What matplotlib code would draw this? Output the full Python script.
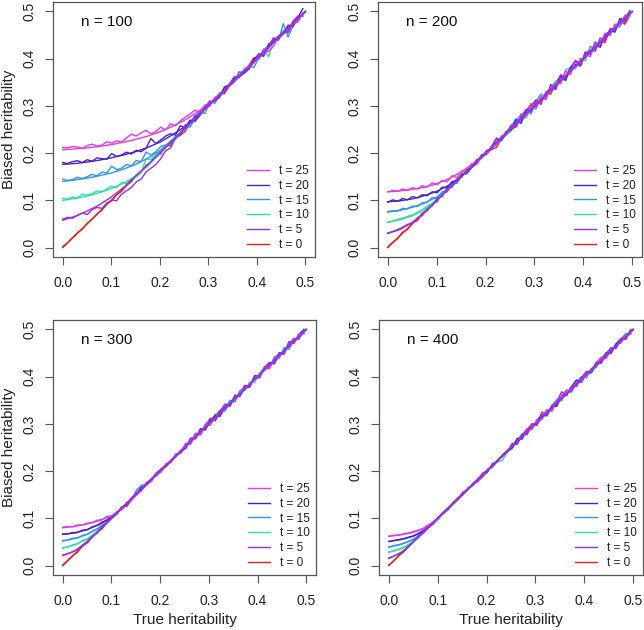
import numpy as np
import matplotlib
matplotlib.use("Agg")
import matplotlib.pyplot as plt
from matplotlib.lines import Line2D

plt.rcParams['font.family'] = ['Liberation Sans', 'DejaVu Sans']

# x grids (true heritability)
true_h_obs = np.linspace(0, 0.495, 50)
true_h_fit = np.linspace(0, 0.5, 21)

t_values = [25, 20, 15, 10, 5, 0]
sample_sizes = [100, 200, 300, 400]
x_ticks = [0.0, 0.1, 0.2, 0.3, 0.4, 0.5]
y_ticks = [0.0, 0.1, 0.2, 0.3, 0.4, 0.5]

# ---------------- n = 100 ----------------
n100_t25_obs = [.212,.211,.214,.213,.210,.216,.219,.215,.217,.224,
                .221,.226,.223,.232,.240,.236,.243,.248,.241,.246,
                .255,.249,.262,.258,.268,.276,.283,.291,.286,.302,
                .299,.318,.322,.331,.344,.352,.366,.372,.386,.392,
                .404,.418,.415,.426,.446,.452,.461,.473,.478,.497]
n100_t20_obs = [.180,.178,.182,.184,.180,.186,.183,.190,.188,.187,
                .199,.193,.196,.202,.198,.206,.203,.210,.231,.220,
                .228,.236,.241,.238,.258,.254,.270,.268,.280,.300,
                .306,.311,.318,.340,.344,.358,.362,.369,.378,.398,
                .410,.405,.431,.437,.448,.452,.471,.468,.488,.506]
n100_t15_obs = [.145,.142,.144,.149,.146,.150,.155,.152,.160,.158,
                .172,.165,.168,.176,.173,.184,.182,.202,.196,.203,
                .214,.217,.224,.235,.243,.258,.255,.274,.291,.294,
                .310,.305,.322,.339,.343,.351,.372,.370,.385,.381,
                .402,.420,.426,.444,.438,.474,.446,.470,.482,.494]
n100_t10_obs = [.104,.103,.107,.105,.113,.111,.114,.120,.118,.124,
                .130,.127,.138,.136,.145,.150,.158,.188,.186,.196,
                .205,.213,.226,.228,.243,.250,.268,.266,.282,.285,
                .306,.312,.328,.330,.348,.350,.360,.379,.383,.394,
                .399,.420,.404,.438,.446,.459,.463,.476,.480,.496]
n100_t5_obs = [.060,.064,.062,.068,.073,.070,.080,.085,.083,.094,
               .101,.099,.113,.120,.127,.139,.145,.160,.168,.176,
               .188,.205,.211,.232,.238,.260,.262,.280,.280,.296,
               .310,.310,.322,.328,.346,.362,.360,.374,.380,.392,
               .410,.408,.424,.444,.440,.455,.458,.480,.490,.493]
n100_t0_obs = [.002,.010,.021,.031,.039,.051,.060,.071,.079,.093,
               .099,.112,.119,.132,.139,.154,.159,.174,.180,.195,
               .198,.215,.216,.234,.238,.246,.264,.272,.288,.284,
               .306,.312,.328,.326,.342,.350,.372,.370,.386,.402,
               .398,.414,.421,.442,.440,.460,.455,.474,.490,.490]
n100_t25_fit = [.207,.209,.211,.214,.218,.223,.229,.236,.245,.256,.269,.285,.303,.325,.349,.374,.399,.424,.449,.474,.499]
n100_t20_fit = [.176,.178,.181,.185,.190,.196,.203,.212,.223,.238,.255,.277,.301,.325,.350,.375,.400,.425,.450,.475,.500]
n100_t15_fit = [.140,.143,.147,.152,.158,.166,.176,.189,.205,.227,.251,.276,.300,.325,.350,.375,.400,.425,.450,.475,.500]
n100_t10_fit = [.100,.104,.109,.116,.125,.136,.151,.172,.199,.225,.250,.275,.300,.325,.350,.375,.400,.425,.450,.475,.500]
n100_t5_fit = [.058,.066,.077,.090,.107,.127,.151,.175,.200,.225,.250,.275,.300,.325,.350,.375,.400,.425,.450,.475,.500]
n100_t0_fit = [.000,.025,.050,.075,.100,.125,.150,.175,.200,.225,.250,.275,.300,.325,.350,.375,.400,.425,.450,.475,.500]

# ---------------- n = 200 ----------------
n200_t25_obs = [.118,.121,.119,.124,.121,.127,.124,.131,.128,.137,
                .133,.142,.139,.152,.148,.163,.160,.178,.176,.194,
                .198,.214,.218,.236,.238,.260,.257,.283,.279,.305,
                .295,.319,.313,.341,.347,.347,.374,.366,.396,.390,
                .410,.404,.432,.430,.454,.449,.473,.473,.491,.491]
n200_t20_obs = [.096,.101,.098,.104,.101,.108,.105,.112,.110,.118,
                .116,.128,.126,.140,.140,.156,.158,.170,.178,.196,
                .198,.214,.230,.228,.244,.249,.271,.263,.289,.303,
                .297,.317,.315,.345,.337,.362,.354,.380,.388,.386,
                .414,.410,.432,.424,.450,.459,.457,.485,.481,.501]
n200_t15_obs = [.076,.078,.077,.083,.082,.088,.087,.095,.096,.106,
                .104,.118,.120,.134,.136,.154,.156,.170,.178,.190,
                .198,.210,.218,.228,.240,.257,.273,.267,.291,.283,
                .309,.325,.319,.339,.335,.364,.358,.378,.394,.384,
                .410,.410,.436,.428,.452,.451,.471,.467,.491,.497]
n200_t10_obs = [.054,.056,.060,.062,.066,.069,.074,.080,.088,.094,
                .104,.114,.124,.130,.142,.150,.164,.170,.186,.190,
                .200,.214,.220,.230,.238,.247,.269,.283,.275,.297,
                .293,.321,.319,.339,.353,.348,.376,.382,.378,.398,
                .396,.424,.418,.442,.440,.461,.455,.483,.487,.489]
n200_t5_obs = [.031,.034,.038,.043,.049,.052,.062,.068,.082,.088,
               .104,.108,.124,.128,.144,.150,.164,.170,.186,.190,
               .206,.208,.232,.226,.244,.258,.255,.277,.293,.287,
               .311,.303,.329,.337,.335,.366,.360,.382,.396,.384,
               .410,.418,.416,.444,.438,.463,.461,.481,.477,.501]
n200_t0_obs = [.001,.011,.019,.033,.038,.053,.057,.073,.078,.093,
               .097,.114,.118,.134,.139,.150,.166,.170,.180,.196,
               .198,.208,.212,.230,.246,.249,.257,.277,.275,.299,
               .313,.307,.327,.325,.349,.364,.354,.382,.380,.400,
               .396,.426,.418,.438,.434,.463,.463,.481,.473,.491]
n200_t25_fit = [.118,.120,.123,.128,.135,.146,.160,.178,.200,.225,.250,.275,.300,.325,.350,.375,.400,.425,.450,.475,.500]
n200_t20_fit = [.097,.099,.103,.110,.119,.132,.151,.175,.200,.225,.250,.275,.300,.325,.350,.375,.400,.425,.450,.475,.500]
n200_t15_fit = [.075,.079,.085,.094,.107,.127,.150,.175,.200,.225,.250,.275,.300,.325,.350,.375,.400,.425,.450,.475,.500]
n200_t10_fit = [.053,.059,.067,.080,.100,.125,.150,.175,.200,.225,.250,.275,.300,.325,.350,.375,.400,.425,.450,.475,.500]
n200_t5_fit = [.030,.038,.053,.075,.100,.125,.150,.175,.200,.225,.250,.275,.300,.325,.350,.375,.400,.425,.450,.475,.500]
n200_t0_fit = [.000,.025,.050,.075,.100,.125,.150,.175,.200,.225,.250,.275,.300,.325,.350,.375,.400,.425,.450,.475,.500]

# ---------------- n = 300 ----------------
n300_t25_obs = [.081,.083,.082,.086,.086,.090,.091,.096,.097,.104,
                .105,.114,.118,.132,.138,.156,.158,.176,.178,.196,
                .198,.216,.218,.236,.238,.259,.259,.280,.277,.297,
                .311,.308,.326,.340,.337,.359,.360,.382,.378,.399,
                .401,.420,.417,.438,.450,.450,.472,.471,.490,.492]
n300_t20_obs = [.067,.067,.070,.070,.075,.076,.082,.085,.092,.096,
                .104,.112,.122,.130,.142,.154,.166,.170,.182,.196,
                .204,.210,.222,.232,.244,.248,.269,.270,.290,.287,
                .307,.318,.316,.339,.339,.361,.359,.377,.378,.402,
                .400,.419,.430,.427,.448,.450,.474,.472,.490,.499]
n300_t15_obs = [.053,.054,.058,.058,.064,.066,.073,.077,.086,.092,
                .102,.110,.122,.132,.140,.160,.170,.172,.184,.192,
                .202,.214,.220,.230,.242,.257,.257,.280,.279,.298,
                .312,.306,.327,.328,.350,.348,.368,.380,.379,.401,
                .400,.419,.418,.442,.440,.461,.458,.479,.482,.500]
n300_t10_obs = [.038,.039,.044,.046,.053,.056,.064,.070,.083,.090,
                .102,.112,.120,.130,.142,.150,.164,.170,.184,.190,
                .198,.214,.222,.232,.238,.258,.258,.277,.276,.299,
                .299,.321,.318,.336,.349,.349,.371,.370,.389,.387,
                .408,.420,.419,.437,.438,.461,.464,.479,.479,.501]
n300_t5_obs = [.022,.025,.029,.034,.042,.048,.061,.069,.083,.090,
               .102,.109,.124,.128,.144,.152,.160,.175,.183,.190,
               .205,.213,.220,.235,.240,.249,.270,.268,.288,.290,
               .311,.307,.327,.342,.338,.358,.358,.381,.380,.399,
               .397,.420,.428,.428,.451,.450,.470,.481,.480,.498]
n300_t0_obs = [.001,.011,.021,.028,.043,.049,.060,.070,.078,.091,
               .101,.109,.125,.125,.140,.155,.161,.171,.179,.193,
               .203,.210,.223,.232,.241,.257,.259,.279,.278,.300,
               .297,.317,.329,.328,.347,.347,.369,.378,.378,.401,
               .400,.419,.417,.440,.447,.448,.473,.470,.489,.491]
n300_t25_fit = [.080,.083,.088,.095,.105,.123,.148,.175,.200,.225,.250,.275,.300,.325,.350,.375,.400,.425,.450,.475,.500]
n300_t20_fit = [.066,.069,.076,.087,.102,.125,.150,.175,.200,.225,.250,.275,.300,.325,.350,.375,.400,.425,.450,.475,.500]
n300_t15_fit = [.052,.057,.066,.080,.100,.125,.150,.175,.200,.225,.250,.275,.300,.325,.350,.375,.400,.425,.450,.475,.500]
n300_t10_fit = [.037,.044,.056,.076,.100,.125,.150,.175,.200,.225,.250,.275,.300,.325,.350,.375,.400,.425,.450,.475,.500]
n300_t5_fit = [.021,.031,.051,.075,.100,.125,.150,.175,.200,.225,.250,.275,.300,.325,.350,.375,.400,.425,.450,.475,.500]
n300_t0_fit = [.000,.025,.050,.075,.100,.125,.150,.175,.200,.225,.250,.275,.300,.325,.350,.375,.400,.425,.450,.475,.500]

# ---------------- n = 400 ----------------
n400_t25_obs = [.062,.064,.065,.067,.069,.072,.075,.079,.086,.090,
                .098,.111,.120,.131,.141,.156,.161,.173,.177,.188,
                .202,.211,.223,.230,.241,.258,.257,.277,.290,.288,
                .309,.309,.330,.327,.347,.359,.372,.368,.388,.389,
                .410,.410,.429,.441,.438,.459,.460,.481,.481,.500]
n400_t20_obs = [.051,.053,.055,.057,.060,.063,.067,.073,.081,.088,
                .101,.113,.119,.132,.142,.150,.163,.170,.181,.190,
                .198,.216,.220,.234,.243,.249,.269,.268,.290,.290,
                .308,.319,.317,.337,.339,.361,.360,.379,.393,.388,
                .408,.409,.430,.430,.451,.450,.469,.481,.481,.498]
n400_t15_obs = [.039,.042,.044,.047,.051,.056,.062,.071,.079,.091,
                .102,.111,.122,.130,.143,.151,.162,.172,.179,.193,
                .201,.209,.224,.232,.240,.259,.259,.278,.277,.300,
                .298,.317,.329,.327,.348,.350,.371,.369,.388,.400,
                .397,.418,.419,.440,.448,.449,.470,.471,.491,.490]
n400_t10_obs = [.029,.031,.035,.038,.044,.051,.058,.072,.081,.092,
                .100,.112,.121,.133,.141,.152,.161,.169,.180,.191,
                .203,.211,.220,.222,.241,.248,.268,.279,.277,.297,
                .299,.320,.318,.339,.352,.349,.368,.367,.389,.390,
                .410,.409,.431,.430,.449,.461,.459,.479,.480,.499]
n400_t5_obs = [.016,.020,.025,.031,.040,.051,.061,.070,.081,.089,
               .103,.110,.119,.132,.139,.153,.160,.174,.181,.189,
               .204,.209,.221,.233,.240,.257,.257,.278,.279,.300,
               .298,.319,.319,.338,.347,.368,.360,.380,.379,.398,
               .411,.409,.428,.428,.449,.461,.461,.480,.479,.499]
n400_t0_obs = [.001,.010,.021,.029,.040,.052,.060,.069,.080,.092,
               .100,.110,.120,.131,.144,.150,.164,.172,.182,.196,
               .201,.212,.221,.231,.242,.248,.269,.269,.288,.300,
               .297,.325,.319,.338,.337,.358,.370,.369,.391,.389,
               .408,.408,.429,.440,.440,.460,.460,.479,.491,.491]
n400_t25_fit = [.062,.065,.070,.080,.100,.125,.150,.175,.200,.225,.250,.275,.300,.325,.350,.375,.400,.425,.450,.475,.500]
n400_t20_fit = [.051,.055,.062,.077,.100,.125,.150,.175,.200,.225,.250,.275,.300,.325,.350,.375,.400,.425,.450,.475,.500]
n400_t15_fit = [.039,.045,.055,.075,.100,.125,.150,.175,.200,.225,.250,.275,.300,.325,.350,.375,.400,.425,.450,.475,.500]
n400_t10_fit = [.028,.035,.051,.075,.100,.125,.150,.175,.200,.225,.250,.275,.300,.325,.350,.375,.400,.425,.450,.475,.500]
n400_t5_fit = [.015,.027,.050,.075,.100,.125,.150,.175,.200,.225,.250,.275,.300,.325,.350,.375,.400,.425,.450,.475,.500]
n400_t0_fit = [.000,.025,.050,.075,.100,.125,.150,.175,.200,.225,.250,.275,.300,.325,.350,.375,.400,.425,.450,.475,.500]

panels = {
    100: {25: (n100_t25_obs, n100_t25_fit), 20: (n100_t20_obs, n100_t20_fit),
          15: (n100_t15_obs, n100_t15_fit), 10: (n100_t10_obs, n100_t10_fit),
          5: (n100_t5_obs, n100_t5_fit), 0: (n100_t0_obs, n100_t0_fit)},
    200: {25: (n200_t25_obs, n200_t25_fit), 20: (n200_t20_obs, n200_t20_fit),
          15: (n200_t15_obs, n200_t15_fit), 10: (n200_t10_obs, n200_t10_fit),
          5: (n200_t5_obs, n200_t5_fit), 0: (n200_t0_obs, n200_t0_fit)},
    300: {25: (n300_t25_obs, n300_t25_fit), 20: (n300_t20_obs, n300_t20_fit),
          15: (n300_t15_obs, n300_t15_fit), 10: (n300_t10_obs, n300_t10_fit),
          5: (n300_t5_obs, n300_t5_fit), 0: (n300_t0_obs, n300_t0_fit)},
    400: {25: (n400_t25_obs, n400_t25_fit), 20: (n400_t20_obs, n400_t20_fit),
          15: (n400_t15_obs, n400_t15_fit), 10: (n400_t10_obs, n400_t10_fit),
          5: (n400_t5_obs, n400_t5_fit), 0: (n400_t0_obs, n400_t0_fit)},
}

colors = {25: '#E03CE0', 20: '#4B1FD0', 15: '#2F96F0',
          10: '#2EE0A6', 5: '#9430E6', 0: '#E62222'}
draw_order = [0, 10, 15, 20, 25, 5]

W, H = 644, 630
fig = plt.figure(figsize=(W / 100, H / 100), dpi=100)
boxes = [(53, 2, 315, 257), (378, 2, 642, 257),
         (53, 320, 316, 575), (379, 320, 643, 575)]
frame_col = '#555555'
text_col = '#222222'

for k, n in enumerate(sample_sizes):
    l, t, r, b = boxes[k]
    ax = fig.add_axes([l / W, 1 - b / H, (r - l) / W, (b - t) / H])
    for tv in draw_order:
        obs, fit = panels[n][tv]
        ax.plot(true_h_obs, obs, color=colors[tv], lw=1.0)
        ax.plot(true_h_fit, fit, color=colors[tv], lw=1.0)
    ax.set_xlim(-0.02, 0.52)
    ax.set_ylim(-0.02, 0.52)
    ax.set_xticks(x_ticks)
    ax.set_xticklabels([f"{v:.1f}" for v in x_ticks])
    ax.set_yticks(y_ticks)
    ax.set_yticklabels([f"{v:.1f}" for v in y_ticks], rotation=90, va='center')
    ax.tick_params(direction='out', length=6, width=0.8, color=frame_col,
                   labelcolor=text_col, labelsize=10)
    ax.tick_params(axis='x', pad=8)
    ax.tick_params(axis='y', pad=6)
    for s in ax.spines.values():
        s.set_color(frame_col)
        s.set_linewidth(0.9)
    ax.text(0.09, 0.478, f"n = {n}", ha='center', va='center',
            fontsize=11, color='#111111')
    handles = [Line2D([0], [0], color=colors[tv], lw=1.0) for tv in t_values]
    labels = [f"t = {tv}" for tv in t_values]
    ax.legend(handles, labels, loc='lower right', frameon=False, fontsize=8.5,
              handlelength=1.8, handletextpad=0.9, labelspacing=0.24,
              borderaxespad=0.1, labelcolor=text_col)

fig.text(9.5 / W, 1 - 129.5 / H, "Biased heritability", rotation=90,
         ha='center', va='center', fontsize=11, color=text_col)
fig.text(9.5 / W, 1 - 447.5 / H, "Biased heritability", rotation=90,
         ha='center', va='center', fontsize=11, color=text_col)
fig.text(184.5 / W, 1 - 620 / H, "True heritability",
         ha='center', va='center', fontsize=11, color=text_col)
fig.text(511 / W, 1 - 620 / H, "True heritability",
         ha='center', va='center', fontsize=11, color=text_col)

fig.savefig("out.png", dpi=100)
